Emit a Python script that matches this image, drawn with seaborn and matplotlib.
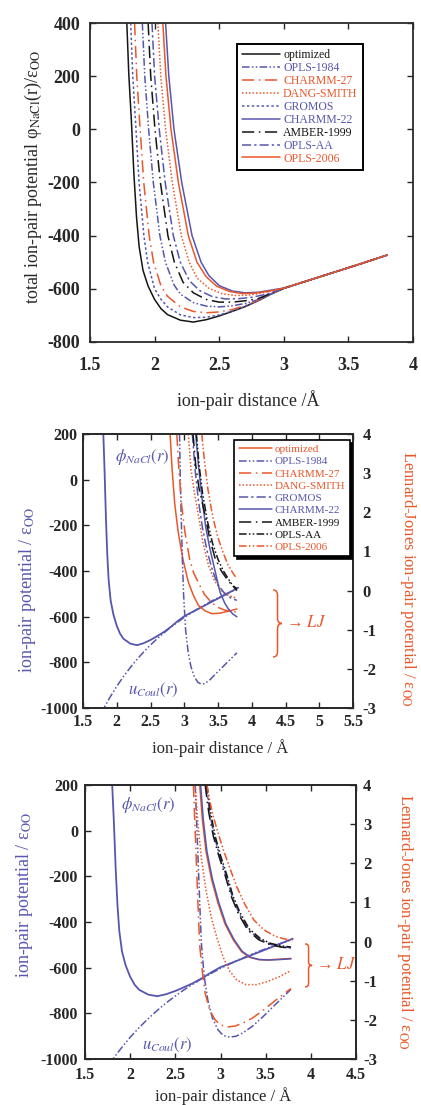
import matplotlib
matplotlib.use("Agg")
import matplotlib.pyplot as plt
from matplotlib.path import Path
from matplotlib.patches import PathPatch
from matplotlib.ticker import FuncFormatter
import pandas as pd
import seaborn as sns

sns.set_style("ticks")
plt.rcParams["font.family"] = ["Liberation Serif", "DejaVu Serif"]
plt.rcParams["mathtext.fontset"] = "stix"
plt.rcParams["axes.unicode_minus"] = False
plt.rcParams["xtick.direction"] = "in"
plt.rcParams["ytick.direction"] = "in"

BLUE = "#5656ae"
ORANGE = "#e9572a"
BLACK = "#151515"

NAMES = ["optimized", "OPLS-1984", "CHARMM-27", "DANG-SMITH", "GROMOS",
         "CHARMM-22", "AMBER-1999", "OPLS-AA", "OPLS-2006"]

# ---------------- total ion-pair potential (r in Å, phi in eps_OO) ----------------
TAIL_R = [3.2, 3.4, 3.6, 3.8]
TAIL_PHI = [-567, -536, -505, -473]

R_OPT = [1.785, 1.80, 1.82, 1.84, 1.86, 1.88, 1.91, 1.95, 2.00, 2.05, 2.10, 2.20,
         2.30, 2.40, 2.50, 2.60, 2.70, 2.80, 2.90, 3.00]
PHI_OPT = [400, 210, 35, -170, -330, -440, -530, -590, -640, -675, -697, -718,
           -725, -716, -702, -685, -667, -645, -620, -598]

R_OPLS1984 = [1.905, 1.924, 1.954, 1.99, 2.041, 2.084, 2.15, 2.20, 2.30, 2.40, 2.50,
              2.60, 2.70, 2.80, 2.90, 3.00]
PHI_OPLS1984 = [400, 200, 0, -200, -400, -500, -585, -620, -652, -665, -668,
                -664, -655, -641, -619, -598]

R_CHARMM27 = [1.845, 1.862, 1.888, 1.916, 1.958, 1.992, 2.05, 2.10, 2.20, 2.30, 2.40,
              2.50, 2.60, 2.70, 2.80, 2.90, 3.00]
PHI_CHARMM27 = [400, 200, 0, -200, -400, -500, -590, -628, -668, -685, -690,
                -687, -678, -663, -644, -620, -598]

R_DANG = [2.025, 2.048, 2.085, 2.137, 2.207, 2.268, 2.33, 2.42, 2.52, 2.62, 2.72,
          2.82, 2.92, 3.00]
PHI_DANG = [400, 200, 0, -200, -400, -500, -560, -598, -618, -625, -624,
            -617, -606, -598]

R_GROMOS = [1.815, 1.831, 1.856, 1.88, 1.917, 1.946, 2.00, 2.05, 2.10, 2.20, 2.30,
            2.40, 2.50, 2.60, 2.70, 2.80, 2.90, 3.00]
PHI_GROMOS = [400, 200, 0, -200, -400, -500, -600, -640, -668, -698, -708,
              -707, -698, -684, -666, -645, -620, -598]

R_CHARMM22 = [2.085, 2.11, 2.15, 2.21, 2.29, 2.36, 2.42, 2.50, 2.60, 2.70, 2.80,
              2.90, 3.00]
PHI_CHARMM22 = [400, 200, 0, -200, -400, -500, -550, -588, -608, -615, -613,
                -605, -597]

R_AMBER = [1.95, 1.97, 2.003, 2.045, 2.103, 2.153, 2.22, 2.30, 2.40, 2.50, 2.60,
           2.70, 2.80, 2.90, 3.00]
PHI_AMBER = [400, 200, 0, -200, -400, -500, -575, -615, -640, -650, -650,
             -645, -637, -617, -598]

R_OPLSAA = [1.98, 2.00, 2.036, 2.082, 2.145, 2.199, 2.27, 2.35, 2.45, 2.55, 2.65,
            2.75, 2.85, 2.95]
PHI_OPLSAA = [400, 200, 0, -200, -400, -500, -570, -607, -630, -638, -637,
              -632, -622, -607]

R_OPLS2006 = [2.064, 2.088, 2.127, 2.184, 2.261, 2.328, 2.40, 2.48, 2.58, 2.68,
              2.78, 2.88, 3.00]
PHI_OPLS2006 = [400, 200, 0, -200, -400, -500, -555, -590, -610, -618,
                -616, -609, -598]

# Coulomb part of the optimized pair potential
R_COUL = [1.75, 1.80, 1.90, 2.00, 2.10, 2.20, 2.30, 2.40, 2.50, 2.60, 2.80, 3.00,
          3.20, 3.40, 3.60, 3.80]
U_COUL = [-1034, -1005, -953, -905, -862, -823, -787, -754, -724, -696, -646, -603,
          -566, -532, -503, -476]

# ---------------- Lennard-Jones parts, middle panel (eps_OO) ----------------
R_LJ_OPT_M = [2.79, 2.82, 2.86, 2.91, 2.98, 3.06, 3.13, 3.21, 3.31, 3.41, 3.52, 3.65, 3.78]
LJ_OPT_M = [4.0, 3.1, 2.2, 1.5, 0.8, 0.22, -0.1, -0.38, -0.52, -0.59, -0.58, -0.53, -0.47]

R_LJ_OPLS1984_M = [2.93, 2.94, 2.955, 2.97, 2.99, 3.02, 3.06, 3.10, 3.15, 3.20, 3.25, 3.30,
                   3.38, 3.47, 3.57, 3.68, 3.78]
LJ_OPLS1984_M = [4.0, 3.0, 1.9, 0.9, -0.1, -1.0, -1.6, -1.95, -2.2, -2.34, -2.39, -2.38,
                 -2.28, -2.12, -1.95, -1.76, -1.59]

R_LJ_CHARMM27_M = [2.89, 2.92, 2.96, 3.01, 3.08, 3.14, 3.21, 3.30, 3.40, 3.50, 3.60, 3.70, 3.78]
LJ_CHARMM27_M = [4.0, 3.1, 2.2, 1.5, 0.8, 0.45, 0.2, -0.1, -0.3, -0.43, -0.5, -0.53, -0.55]

R_LJ_DANG_M = [3.06, 3.10, 3.15, 3.21, 3.28, 3.36, 3.45, 3.55, 3.65, 3.78]
LJ_DANG_M = [4.0, 3.1, 2.5, 1.92, 1.2, 0.64, 0.25, 0.0, -0.12, -0.2]

R_LJ_GROMOS_M = [3.12, 3.16, 3.21, 3.27, 3.34, 3.42, 3.50, 3.60, 3.70, 3.78]
LJ_GROMOS_M = [4.0, 3.1, 2.3, 1.6, 1.0, 0.5, 0.15, -0.08, -0.2, -0.25]

R_LJ_CHARMM22_M = [3.17, 3.21, 3.26, 3.32, 3.38, 3.45, 3.53, 3.60, 3.65, 3.72, 3.78]
LJ_CHARMM22_M = [4.0, 3.2, 2.4, 1.6, 1.07, 0.55, -0.04, -0.32, -0.46, -0.6, -0.67]

R_LJ_AMBER_M = [3.13, 3.17, 3.22, 3.31, 3.38, 3.46, 3.55, 3.63, 3.70, 3.78]
LJ_AMBER_M = [4.0, 3.2, 2.6, 1.92, 1.3, 0.81, 0.5, 0.3, 0.15, 0.05]

R_LJ_OPLSAA_M = [3.18, 3.22, 3.27, 3.34, 3.42, 3.50, 3.58, 3.66, 3.72, 3.78]
LJ_OPLSAA_M = [4.0, 3.2, 2.5, 1.8, 1.2, 0.8, 0.5, 0.28, 0.12, 0.0]

R_LJ_OPLS2006_M = [3.26, 3.30, 3.35, 3.42, 3.50, 3.58, 3.65, 3.72, 3.78]
LJ_OPLS2006_M = [4.0, 3.3, 2.6, 1.9, 1.35, 0.95, 0.65, 0.45, 0.3]

# ---------------- Lennard-Jones parts, bottom panel (eps_OO) ----------------
R_LJ_OPT_B = [2.77, 2.80, 2.84, 2.90, 2.97, 3.05, 3.14, 3.23, 3.32, 3.42, 3.52, 3.65, 3.78]
LJ_OPT_B = [4.0, 3.1, 2.3, 1.6, 1.0, 0.45, 0.05, -0.25, -0.4, -0.46, -0.47, -0.45, -0.43]

R_LJ_OPLS1984_B = [2.72, 2.74, 2.76, 2.775, 2.79, 2.82, 2.86, 2.91, 2.97, 3.03, 3.10, 3.17,
                   3.25, 3.35, 3.47, 3.62, 3.78]
LJ_OPLS1984_B = [4.0, 2.8, 1.6, 0.7, -0.1, -0.9, -1.5, -1.95, -2.25, -2.4, -2.44, -2.42,
                 -2.33, -2.17, -1.92, -1.58, -1.22]

R_LJ_CHARMM27_B = [2.70, 2.72, 2.74, 2.755, 2.77, 2.80, 2.83, 2.88, 2.94, 3.00, 3.08, 3.16,
                   3.25, 3.35, 3.47, 3.62, 3.78]
LJ_CHARMM27_B = [4.0, 2.8, 1.6, 0.7, -0.1, -0.8, -1.32, -1.75, -2.0, -2.13, -2.18, -2.16,
                 -2.08, -1.96, -1.76, -1.48, -1.2]

R_LJ_DANG_B = [2.72, 2.75, 2.79, 2.84, 2.90, 2.96, 3.03, 3.10, 3.18, 3.28, 3.40, 3.52, 3.65, 3.78]
LJ_DANG_B = [4.0, 3.0, 2.1, 1.3, 0.6, 0.1, -0.4, -0.75, -0.98, -1.1, -1.1, -1.02, -0.9, -0.74]

R_LJ_GROMOS_B = [2.84, 2.88, 2.93, 2.99, 3.06, 3.13, 3.21, 3.31, 3.43, 3.55, 3.67, 3.78]
LJ_GROMOS_B = [4.0, 3.3, 2.7, 2.2, 1.7, 1.15, 0.7, 0.3, 0.06, -0.07, -0.13, -0.16]

R_LJ_CHARMM22_B = [2.78, 2.81, 2.85, 2.91, 2.98, 3.06, 3.15, 3.24, 3.33, 3.43, 3.53, 3.65, 3.78]
LJ_CHARMM22_B = [4.0, 3.1, 2.3, 1.6, 1.0, 0.45, 0.05, -0.25, -0.4, -0.46, -0.47, -0.46, -0.44]

R_LJ_AMBER_B = [2.83, 2.87, 2.92, 2.98, 3.05, 3.12, 3.20, 3.30, 3.42, 3.55, 3.67, 3.78]
LJ_AMBER_B = [4.0, 3.3, 2.7, 2.2, 1.7, 1.15, 0.7, 0.3, 0.05, -0.08, -0.14, -0.17]

R_LJ_OPLSAA_B = [2.85, 2.89, 2.94, 3.00, 3.07, 3.14, 3.22, 3.32, 3.44, 3.56, 3.68, 3.78]
LJ_OPLSAA_B = [4.0, 3.3, 2.7, 2.2, 1.7, 1.15, 0.72, 0.32, 0.08, -0.05, -0.11, -0.14]

R_LJ_OPLS2006_B = [2.85, 2.88, 2.92, 2.97, 3.03, 3.10, 3.18, 3.27, 3.37, 3.48, 3.60, 3.70, 3.78]
LJ_OPLS2006_B = [4.0, 3.6, 3.2, 2.8, 2.35, 1.9, 1.4, 0.95, 0.55, 0.3, 0.14, 0.07, 0.04]

# ---------------- line styles ----------------
SOLID = "-"
DOT = (0, (1.0, 1.3))
DOT2 = (0, (1.6, 1.6))
DASH_DOT = (0, (6, 2, 1.5, 2))
DASH_DOT_DOT = (0, (5, 1.5, 1, 1.5, 1, 1.5))
LONG_DASH_DOT = (0, (8, 3, 1, 3))

TOP_STYLE = [(BLACK, SOLID), (BLUE, DASH_DOT_DOT), (ORANGE, LONG_DASH_DOT), (ORANGE, DOT),
             (BLUE, DOT2), (BLUE, SOLID), (BLACK, LONG_DASH_DOT), (BLUE, DASH_DOT),
             (ORANGE, SOLID)]
LJ_STYLE = [(ORANGE, SOLID), (BLUE, DASH_DOT_DOT), (ORANGE, LONG_DASH_DOT), (ORANGE, DOT),
            (BLUE, DASH_DOT), (BLUE, SOLID), (BLACK, LONG_DASH_DOT), (BLACK, DASH_DOT_DOT),
            (ORANGE, DASH_DOT_DOT)]


def draw(ax, x, y, color, ls, label=None, lw=1.1):
    df = pd.DataFrame({"r": x, "v": y})
    sns.lineplot(data=df, x="r", y="v", ax=ax, color=color, lw=lw, label=label,
                 estimator=None, sort=False, legend=False)
    line = ax.lines[-1]
    line.set_linestyle(ls)
    return line


def brace(ax, x0, y0, y1, w, color):
    ym = 0.5 * (y0 + y1)
    h = (y1 - y0) * 0.08
    xm = x0 + w / 2
    verts = [(x0, y0), (xm, y0), (xm, y0 + h), (xm, ym - h), (xm, ym), (x0 + w, ym),
             (xm, ym), (xm, ym + h), (xm, y1 - h), (xm, y1), (x0, y1)]
    codes = [Path.MOVETO, Path.CURVE3, Path.CURVE3, Path.LINETO, Path.CURVE3, Path.CURVE3,
             Path.CURVE3, Path.CURVE3, Path.LINETO, Path.CURVE3, Path.CURVE3]
    ax.add_patch(PathPatch(Path(verts, codes), transform=ax.transAxes, fill=False,
                           edgecolor=color, lw=1.1, clip_on=False))


fmt = FuncFormatter(lambda v, p: f"{v:g}")


def style_axes(ax, xticks, yticks, xpad, ypad, size):
    ax.set_xticks(xticks)
    ax.set_yticks(yticks)
    ax.xaxis.set_major_formatter(fmt)
    ax.yaxis.set_major_formatter(fmt)
    ax.tick_params(axis="x", pad=xpad, labelsize=size, length=4, width=1, top=True)
    ax.tick_params(axis="y", pad=ypad, labelsize=size, length=4, width=1)
    for lab in ax.get_xticklabels() + ax.get_yticklabels():
        lab.set_fontweight("bold")
    for s in ax.spines.values():
        s.set_linewidth(1.3)
        s.set_color("#2a2a2a")
        s.set_visible(True)


fig = plt.figure(figsize=(4.21, 11.05), dpi=100)
ax_top = fig.add_axes([90 / 421, 1 - 342 / 1105, 323 / 421, 319 / 1105])
ax_mid = fig.add_axes([83 / 421, 1 - 708 / 1105, 270 / 421, 274 / 1105])
ax_bot = fig.add_axes([85 / 421, 1 - 1059 / 1105, 271 / 421, 274 / 1105])

# ---------------- top panel ----------------
top_r = [R_OPT, R_OPLS1984, R_CHARMM27, R_DANG, R_GROMOS, R_CHARMM22, R_AMBER, R_OPLSAA, R_OPLS2006]
top_phi = [PHI_OPT, PHI_OPLS1984, PHI_CHARMM27, PHI_DANG, PHI_GROMOS, PHI_CHARMM22,
           PHI_AMBER, PHI_OPLSAA, PHI_OPLS2006]
handles = []
for name, r, phi, (c, ls) in zip(NAMES, top_r, top_phi, TOP_STYLE):
    handles.append(draw(ax_top, r + TAIL_R, phi + TAIL_PHI, c, ls, label=name))
ax_top.set_xlim(1.5, 4)
ax_top.set_ylim(-800, 400)
style_axes(ax_top, [1.5, 2, 2.5, 3, 3.5, 4], list(range(-800, 401, 200)), 11, 7, 13)
ax_top.tick_params(axis="y", right=True)
ax_top.set_xlabel("ion-pair distance /Å", fontsize=13, va="center")
ax_top.set_ylabel("total ion-pair potential φ$_{\\rm NaCl}$(r)/ε$_{\\rm OO}$", fontsize=13,
                  va="center")
ax_top.xaxis.set_label_coords(0.489, -0.182)
ax_top.yaxis.set_label_coords(-0.176, 0.517)
leg = ax_top.legend(handles=handles, labels=NAMES, loc="upper left",
                    bbox_to_anchor=(0.455, 0.935), fontsize=8.5, handlelength=3.2,
                    handletextpad=0.25, labelspacing=0.08, borderpad=0.45,
                    borderaxespad=0, fancybox=False, framealpha=1,
                    labelcolor=[c for c, _ in TOP_STYLE])
leg.get_frame().set_edgecolor("black")
leg.get_frame().set_linewidth(1.4)

# ---------------- middle and bottom panels ----------------
mid_r = [R_LJ_OPT_M, R_LJ_OPLS1984_M, R_LJ_CHARMM27_M, R_LJ_DANG_M, R_LJ_GROMOS_M,
         R_LJ_CHARMM22_M, R_LJ_AMBER_M, R_LJ_OPLSAA_M, R_LJ_OPLS2006_M]
mid_lj = [LJ_OPT_M, LJ_OPLS1984_M, LJ_CHARMM27_M, LJ_DANG_M, LJ_GROMOS_M,
          LJ_CHARMM22_M, LJ_AMBER_M, LJ_OPLSAA_M, LJ_OPLS2006_M]
bot_r = [R_LJ_OPT_B, R_LJ_OPLS1984_B, R_LJ_CHARMM27_B, R_LJ_DANG_B, R_LJ_GROMOS_B,
         R_LJ_CHARMM22_B, R_LJ_AMBER_B, R_LJ_OPLSAA_B, R_LJ_OPLS2006_B]
bot_lj = [LJ_OPT_B, LJ_OPLS1984_B, LJ_CHARMM27_B, LJ_DANG_B, LJ_GROMOS_B,
          LJ_CHARMM22_B, LJ_AMBER_B, LJ_OPLSAA_B, LJ_OPLS2006_B]

panels = [
    (ax_mid, mid_r, mid_lj, 5.5, [1.5, 2, 2.5, 3, 3.5, 4, 4.5, 5, 5.5], 4.5, 4, 7, True,
     (-0.204, 0.43), (1.204, 0.47), (0.507, -0.146),
     (0.219, 0.916), (0.259, 0.066), (0.704, 0.186, 0.431, 0.033), (0.752, 0.312)),
    (ax_bot, bot_r, bot_lj, 4.5, [1.5, 2, 2.5, 3, 3.5, 4, 4.5], 6, 5, 5, False,
     (-0.222, 0.6), (1.18, 0.5), (0.51, -0.136),
     (0.232, 0.927), (0.303, 0.051), (0.812, 0.263, 0.420, 0.026), (0.852, 0.343)),
]

for (ax, rs, ljs, xmax, xt, xpad, ypad, rpad, with_legend, ylc, rlc, xlc,
     phi_pos, coul_pos, br, lj_pos) in panels:
    draw(ax, R_OPT + TAIL_R, PHI_OPT + TAIL_PHI, BLUE, SOLID, lw=1.3)
    draw(ax, R_COUL, U_COUL, BLUE, DASH_DOT_DOT, lw=1.1)
    ax.set_xlim(1.5, xmax)
    ax.set_ylim(-1000, 200)
    style_axes(ax, xt, list(range(-1000, 201, 200)), xpad, ypad, 11.5)
    ax.tick_params(axis="y", right=False)
    ax.set_xlabel("ion-pair distance / Å", fontsize=12, va="center")
    ax.set_ylabel("ion-pair potential / ε$_{\\rm OO}$", fontsize=13, color=BLUE, va="center")
    ax.xaxis.set_label_coords(*xlc)
    ax.yaxis.set_label_coords(*ylc)

    ax2 = ax.twinx()
    lj_handles = []
    for name, r, v, (c, ls) in zip(NAMES, rs, ljs, LJ_STYLE):
        lj_handles.append(draw(ax2, r, v, c, ls, label=name))
    ax2.set_ylim(-3, 4)
    ax2.set_yticks(list(range(-3, 5)))
    ax2.yaxis.set_major_formatter(fmt)
    ax2.tick_params(axis="y", pad=rpad, labelsize=12, length=4, width=1)
    for lab in ax2.get_yticklabels():
        lab.set_fontweight("bold")
    for s in ax2.spines.values():
        s.set_linewidth(1.3)
        s.set_color("#2a2a2a")
    ax2.set_ylabel("Lennard-Jones ion-pair potential / ε$_{\\rm OO}$", fontsize=12,
                   color=ORANGE, rotation=270, va="center")
    ax2.yaxis.set_label_coords(*rlc)

    ax2.text(*phi_pos, r"$\phi_{NaCl}(r)$", transform=ax2.transAxes, color=BLUE,
             fontsize=12, ha="center", va="center")
    ax2.text(*coul_pos, r"$u_{Coul}(r)$", transform=ax2.transAxes, color=BLUE,
             fontsize=12, ha="center", va="center")
    brace(ax2, br[0], br[1], br[2], br[3], ORANGE)
    ax2.text(*lj_pos, "→ $LJ$", transform=ax2.transAxes, color=ORANGE, fontsize=12,
             ha="left", va="center")

    if with_legend:
        leg = ax2.legend(handles=lj_handles, labels=NAMES, loc="upper left",
                         bbox_to_anchor=(0.56, 0.978), fontsize=8, handlelength=3.0,
                         handletextpad=0.25, labelspacing=0.22, borderpad=0.4,
                         borderaxespad=0, fancybox=False, framealpha=1,
                         shadow={"color": "black", "alpha": 1.0},
                         labelcolor=[c for c, _ in LJ_STYLE])
        leg.get_frame().set_edgecolor("black")
        leg.get_frame().set_linewidth(1.2)
    else:
        lg = ax2.get_legend()
        if lg is not None:
            lg.remove()
    lg = ax.get_legend()
    if lg is not None:
        lg.remove()

fig.savefig("out.png", dpi=100)
